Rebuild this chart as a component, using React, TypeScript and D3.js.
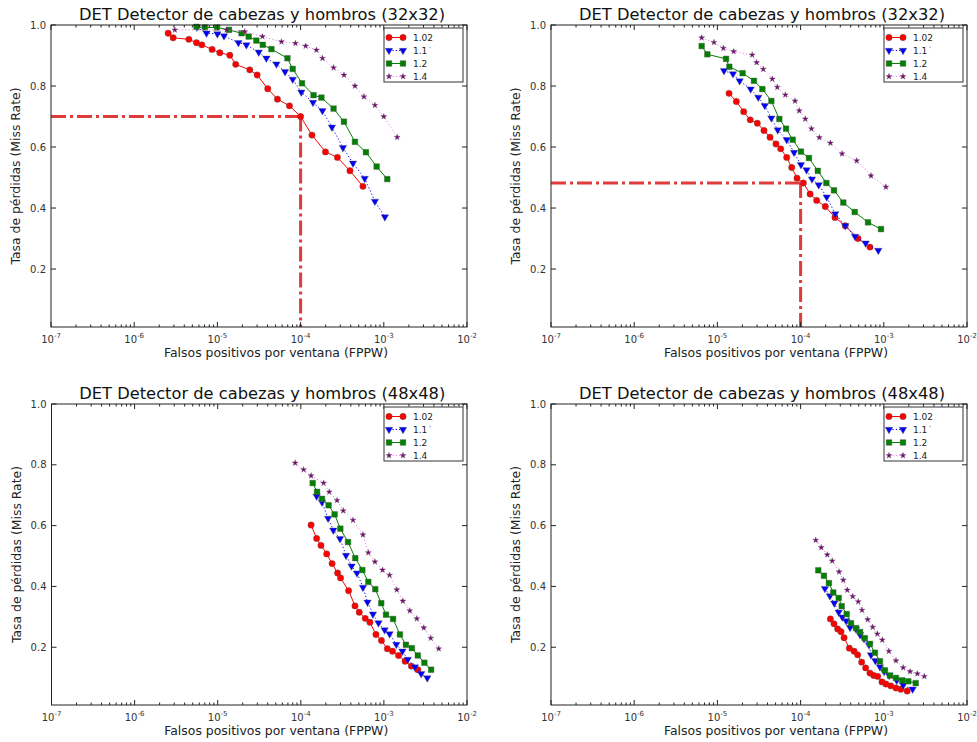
import React from "react"
import * as d3 from "d3"

const width = 977
const height = 742

// [FPPW, miss rate]
const det32a_102 = [[2.56e-6,0.973],[2.94e-6,0.958],[4.54e-6,0.953],[5.61e-6,0.942],[6.50e-6,0.935],[8.63e-6,0.920],[1.07e-5,0.909],[1.41e-5,0.901],[1.66e-5,0.871],[2.45e-5,0.853],[3.00e-5,0.836],[4.03e-5,0.791],[5.27e-5,0.757],[7.35e-5,0.735],[1.0e-4,0.700],[1.37e-4,0.639],[1.99e-4,0.584],[2.77e-4,0.566],[3.92e-4,0.522],[5.61e-4,0.471]]
const det32a_11 = [[5.66e-6,0.993],[7.40e-6,0.973],[1.00e-5,0.971],[1.20e-5,0.964],[1.79e-5,0.942],[2.23e-5,0.935],[3.14e-5,0.911],[3.88e-5,0.891],[5.12e-5,0.872],[6.50e-5,0.847],[8.04e-5,0.822],[1.02e-4,0.780],[1.41e-4,0.746],[1.83e-4,0.719],[2.38e-4,0.665],[3.23e-4,0.598],[4.26e-4,0.547],[5.89e-4,0.497],[7.82e-4,0.422],[1.03e-3,0.371]]
const det32a_12 = [[5.61e-6,0.994],[7.06e-6,0.992],[9.91e-6,0.992],[1.38e-5,0.984],[1.95e-5,0.973],[2.38e-5,0.962],[2.94e-5,0.949],[3.51e-5,0.935],[4.46e-5,0.921],[6.95e-5,0.891],[8.04e-5,0.856],[1.04e-4,0.809],[1.43e-4,0.770],[1.78e-4,0.762],[2.49e-4,0.726],[3.32e-4,0.683],[4.50e-4,0.617],[6.10e-4,0.583],[8.20e-4,0.536],[1.10e-3,0.495]]
const det32a_14 = [[3.08e-6,0.984],[1.29e-5,0.984],[2.13e-5,0.978],[3.48e-5,0.962],[5.89e-5,0.945],[8.67e-5,0.940],[1.15e-4,0.931],[1.55e-4,0.918],[1.83e-4,0.891],[2.49e-4,0.860],[3.32e-4,0.836],[4.50e-4,0.800],[5.77e-4,0.765],[7.82e-4,0.737],[1.00e-3,0.700],[1.45e-3,0.632]]

const det32b_102 = [[1.38e-5,0.776],[1.69e-5,0.749],[2.07e-5,0.716],[2.48e-5,0.689],[3.02e-5,0.678],[3.63e-5,0.654],[4.29e-5,0.632],[5.06e-5,0.610],[5.77e-5,0.594],[6.81e-5,0.566],[7.82e-5,0.533],[9.06e-5,0.498],[1.08e-4,0.482],[1.30e-4,0.446],[1.56e-4,0.425],[1.98e-4,0.405],[2.59e-4,0.369],[3.44e-4,0.342],[4.90e-4,0.300],[6.82e-4,0.272]]
const det32b_11 = [[1.20e-5,0.850],[1.54e-5,0.840],[1.85e-5,0.817],[2.51e-5,0.790],[3.10e-5,0.763],[3.71e-5,0.736],[4.45e-5,0.695],[5.31e-5,0.656],[6.81e-5,0.624],[8.34e-5,0.582],[1.01e-4,0.542],[1.18e-4,0.525],[1.37e-4,0.495],[1.65e-4,0.476],[2.06e-4,0.436],[2.61e-4,0.381],[3.44e-4,0.342],[4.51e-4,0.307],[6.05e-4,0.285],[8.59e-4,0.261]]
const det32b_12 = [[6.47e-6,0.931],[7.57e-6,0.904],[1.27e-5,0.889],[1.39e-5,0.863],[2.01e-5,0.842],[2.75e-5,0.817],[3.47e-5,0.790],[4.45e-5,0.751],[5.55e-5,0.692],[6.68e-5,0.660],[8.04e-5,0.624],[1.01e-4,0.585],[1.26e-4,0.564],[1.61e-4,0.522],[2.04e-4,0.482],[2.52e-4,0.458],[3.26e-4,0.418],[4.47e-4,0.387],[6.46e-4,0.353],[9.25e-4,0.331]]
const det32b_14 = [[6.47e-6,0.958],[9.10e-6,0.943],[1.18e-5,0.924],[1.57e-5,0.913],[2.62e-5,0.902],[2.96e-5,0.877],[3.56e-5,0.855],[4.57e-5,0.823],[5.25e-5,0.796],[6.55e-5,0.771],[8.57e-5,0.751],[9.64e-5,0.719],[1.14e-4,0.692],[1.35e-4,0.660],[1.68e-4,0.631],[2.28e-4,0.613],[3.15e-4,0.578],[4.72e-4,0.555],[7.01e-4,0.506],[1.06e-3,0.469]]

const det48a_102 = [[1.33e-4,0.602],[1.55e-4,0.558],[1.75e-4,0.535],[2.05e-4,0.507],[2.38e-4,0.475],[2.77e-4,0.444],[3.01e-4,0.428],[3.76e-4,0.386],[4.49e-4,0.336],[5.05e-4,0.315],[5.96e-4,0.295],[6.79e-4,0.282],[8.02e-4,0.242],[9.35e-4,0.222],[1.10e-3,0.195],[1.27e-3,0.187],[1.50e-3,0.173],[1.80e-3,0.154],[2.14e-3,0.138],[2.56e-3,0.126]]
const det48a_11 = [[1.55e-4,0.697],[1.80e-4,0.677],[2.13e-4,0.624],[2.46e-4,0.585],[2.96e-4,0.557],[3.50e-4,0.502],[4.08e-4,0.467],[4.74e-4,0.444],[5.60e-4,0.397],[6.35e-4,0.348],[7.38e-4,0.309],[8.61e-4,0.280],[1.02e-3,0.257],[1.17e-3,0.244],[1.41e-3,0.209],[1.67e-3,0.187],[1.94e-3,0.160],[2.36e-3,0.135],[2.81e-3,0.113],[3.33e-3,0.099]]
const det48a_12 = [[1.39e-4,0.740],[1.57e-4,0.711],[1.80e-4,0.688],[2.16e-4,0.667],[2.55e-4,0.637],[2.99e-4,0.590],[3.70e-4,0.546],[4.52e-4,0.493],[5.50e-4,0.454],[6.49e-4,0.415],[7.87e-4,0.391],[9.29e-4,0.345],[1.06e-3,0.307],[1.29e-3,0.293],[1.56e-3,0.242],[1.84e-3,0.208],[2.17e-3,0.197],[2.56e-3,0.173],[3.07e-3,0.149],[3.70e-3,0.126]]
const det48a_14 = [[8.55e-5,0.806],[1.08e-4,0.784],[1.33e-4,0.764],[1.88e-4,0.740],[2.20e-4,0.711],[2.73e-4,0.683],[3.24e-4,0.649],[4.25e-4,0.618],[5.60e-4,0.570],[6.49e-4,0.511],[7.80e-4,0.481],[9.62e-4,0.454],[1.17e-3,0.437],[1.43e-3,0.389],[1.69e-3,0.352],[2.05e-3,0.320],[2.49e-3,0.294],[3.02e-3,0.264],[3.66e-3,0.230],[4.57e-3,0.195]]

const det48b_102 = [[2.28e-4,0.293],[2.52e-4,0.277],[2.79e-4,0.260],[3.06e-4,0.251],[3.33e-4,0.231],[3.85e-4,0.197],[4.39e-4,0.187],[4.85e-4,0.175],[5.42e-4,0.151],[6.05e-4,0.132],[6.82e-4,0.115],[7.57e-4,0.107],[8.45e-4,0.104],[9.51e-4,0.086],[1.06e-3,0.079],[1.21e-3,0.073],[1.40e-3,0.066],[1.60e-3,0.062],[1.91e-3,0.056]]
const det48b_11 = [[1.96e-4,0.393],[2.25e-4,0.369],[2.54e-4,0.345],[2.87e-4,0.315],[3.17e-4,0.299],[3.52e-4,0.287],[3.93e-4,0.265],[4.63e-4,0.260],[5.18e-4,0.241],[5.78e-4,0.228],[6.64e-4,0.208],[7.01e-4,0.175],[7.91e-4,0.156],[8.99e-4,0.135],[1.01e-3,0.120],[1.16e-3,0.107],[1.43e-3,0.091],[1.71e-3,0.075],[2.22e-3,0.062]]
const det48b_12 = [[1.63e-4,0.453],[1.91e-4,0.435],[2.19e-4,0.411],[2.47e-4,0.380],[2.87e-4,0.362],[3.12e-4,0.335],[3.58e-4,0.309],[4.04e-4,0.279],[4.63e-4,0.263],[5.18e-4,0.250],[5.89e-4,0.230],[6.82e-4,0.211],[7.83e-4,0.182],[8.99e-4,0.154],[1.03e-3,0.124],[1.19e-3,0.107],[1.40e-3,0.099],[1.67e-3,0.091],[1.97e-3,0.088],[2.42e-3,0.082]]
const det48b_14 = [[1.52e-4,0.552],[1.77e-4,0.528],[2.09e-4,0.504],[2.40e-4,0.484],[2.90e-4,0.448],[3.26e-4,0.421],[3.64e-4,0.388],[4.23e-4,0.367],[4.93e-4,0.350],[5.47e-4,0.322],[6.40e-4,0.291],[7.36e-4,0.266],[8.36e-4,0.244],[9.59e-4,0.224],[1.15e-3,0.187],[1.40e-3,0.156],[1.71e-3,0.133],[2.07e-3,0.120],[2.53e-3,0.113],[3.07e-3,0.104]]

const seriesNames = ["1.02", "1.1", "1.2", "1.4"]
const xTickExp = [-7, -6, -5, -4, -3, -2]
const yTicks = [0.2, 0.4, 0.6, 0.8, 1.0]
const titles = [
  "DET Detector de cabezas y hombros (32x32)",
  "DET Detector de cabezas y hombros (32x32)",
  "DET Detector de cabezas y hombros (48x48)",
  "DET Detector de cabezas y hombros (48x48)",
]
// operating point marked with the red dash-dot lines
const refPoints = [[1e-4, 0.70], [1e-4, 0.482], null, null]

const panelData = [
  [det32a_102, det32a_11, det32a_12, det32a_14],
  [det32b_102, det32b_11, det32b_12, det32b_14],
  [det48a_102, det48a_11, det48a_12, det48a_14],
  [det48b_102, det48b_11, det48b_12, det48b_14],
]

const boxes = [
  { left: 51, top: 25, right: 467, bottom: 327 },
  { left: 551, top: 25, right: 967, bottom: 327 },
  { left: 51.5, top: 404, right: 467, bottom: 705 },
  { left: 551, top: 404, right: 967, bottom: 705 },
]

const styles = [
  { fill: "#ff0000", line: "#ff0000", dash: undefined, type: d3.symbolCircle, size: 32, rot: 0 },
  { fill: "#0000ff", line: "#0000ff", dash: "1.2 2.2", type: d3.symbolTriangle, size: 24, rot: 180 },
  { fill: "#008000", line: "#008000", dash: undefined, type: d3.symbolSquare, size: 32, rot: 0 },
  { fill: "#800080", line: "#ee82ee", dash: "1.2 2.2", type: d3.symbolStar, size: 11, rot: 0 },
]

const font = "DejaVu Sans, sans-serif"

const Marker = ({ x, y, s }) => (
  <path
    d={d3.symbol().type(s.type).size(s.size)()}
    transform={`translate(${x},${y}) rotate(${s.rot})`}
    fill={s.fill}
    stroke="#555"
    strokeWidth={0.4}
  />
)

const Panel = ({ idx }) => {
  const b = boxes[idx]
  const x = d3.scaleLog().domain([1e-7, 1e-2]).range([b.left, b.right])
  const y = d3.scaleLinear().domain([0.01, 1]).range([b.bottom, b.top])
  const line = d3.line().x(d => x(d[0])).y(d => y(d[1]))
  const minor = []
  xTickExp.slice(0, -1).forEach(e => {
    for (let k = 2; k < 10; k++) minor.push(k * Math.pow(10, e))
  })
  const ref = refPoints[idx]
  const cx = (b.left + b.right) / 2
  const lx = b.right - 83
  const ly = b.top + 3
  return (
    <g>
      <text x={cx + 3} y={b.top - 5} textAnchor="middle" fontFamily={font} fontSize={15} textLength={366} lengthAdjust="spacingAndGlyphs" fill="#111">
        {titles[idx]}
      </text>
      {ref && (
        <g stroke="#e03a3a" strokeWidth={3} fill="none" strokeDasharray="15 4 3 4">
          <line x1={b.left} x2={x(ref[0])} y1={y(ref[1])} y2={y(ref[1])} />
          <line x1={x(ref[0])} x2={x(ref[0])} y1={y(ref[1])} y2={b.bottom} />
        </g>
      )}
      {panelData[idx].map((d, i) => (
        <g key={i}>
          <path d={line(d)} fill="none" stroke={styles[i].line} strokeWidth={1} strokeDasharray={styles[i].dash} />
          {d.map((p, j) => (
            <Marker key={j} x={x(p[0])} y={y(p[1])} s={styles[i]} />
          ))}
        </g>
      ))}
      <rect x={b.left} y={b.top} width={b.right - b.left} height={b.bottom - b.top} fill="none" stroke="#222" strokeWidth={1} />
      {xTickExp.map(e => {
        const px = x(Math.pow(10, e))
        return (
          <g key={e}>
            <line x1={px} x2={px} y1={b.bottom} y2={b.bottom - 5} stroke="#222" />
            <line x1={px} x2={px} y1={b.top} y2={b.top + 5} stroke="#222" />
            <text x={px} y={b.bottom + 16} textAnchor="middle" fontFamily={font} fontSize={10} fill="#333">
              10<tspan dy={-5} fontSize={7}>{e}</tspan>
            </text>
          </g>
        )
      })}
      {minor.map((v, i) => (
        <g key={i} stroke="#222">
          <line x1={x(v)} x2={x(v)} y1={b.bottom} y2={b.bottom - 2.5} />
          <line x1={x(v)} x2={x(v)} y1={b.top} y2={b.top + 2.5} />
        </g>
      ))}
      {yTicks.map(t => (
        <g key={t}>
          <line x1={b.left} x2={b.left + 5} y1={y(t)} y2={y(t)} stroke="#222" />
          <line x1={b.right} x2={b.right - 5} y1={y(t)} y2={y(t)} stroke="#222" />
          <text x={b.left - 5} y={y(t) + 3.5} textAnchor="end" fontFamily={font} fontSize={10} fill="#333">
            {t.toFixed(1)}
          </text>
        </g>
      ))}
      <text x={cx + 17} y={b.bottom + 30} textAnchor="middle" fontFamily={font} fontSize={11.5} textLength={224} lengthAdjust="spacingAndGlyphs" fill="#222">
        Falsos positivos por ventana (FPPW)
      </text>
      <text
        transform={`translate(${b.left - 31},${(b.top + b.bottom) / 2}) rotate(-90)`}
        textAnchor="middle"
        fontFamily={font}
        fontSize={12}
        textLength={177}
        lengthAdjust="spacingAndGlyphs"
        fill="#222"
      >
        Tasa de pérdidas (Miss Rate)
      </text>
      <g>
        <rect x={lx} y={ly} width={79} height={54} fill="#fff" stroke="#333" strokeWidth={1} />
        {seriesNames.map((n, i) => {
          const yy = ly + 9.5 + i * 13
          return (
            <g key={n}>
              <line x1={lx + 5} x2={lx + 19} y1={yy} y2={yy} stroke={styles[i].line} strokeWidth={1} strokeDasharray={styles[i].dash} />
              <Marker x={lx + 5} y={yy} s={styles[i]} />
              <Marker x={lx + 19} y={yy} s={styles[i]} />
              <text x={lx + 29} y={yy + 3.2} fontFamily={font} fontSize={9} fill="#222">
                {n}
                {i === 1 && <tspan fontSize={6} dy={-3} dx={2}>'</tspan>}
              </text>
            </g>
          )
        })}
      </g>
    </g>
  )
}

export default function App() {
  return (
    <svg width={width} height={height} style={{ position: "absolute", left: 0, top: 0, background: "#fff" }}>
      {boxes.map((_, i) => (
        <Panel key={i} idx={i} />
      ))}
    </svg>
  )
}
